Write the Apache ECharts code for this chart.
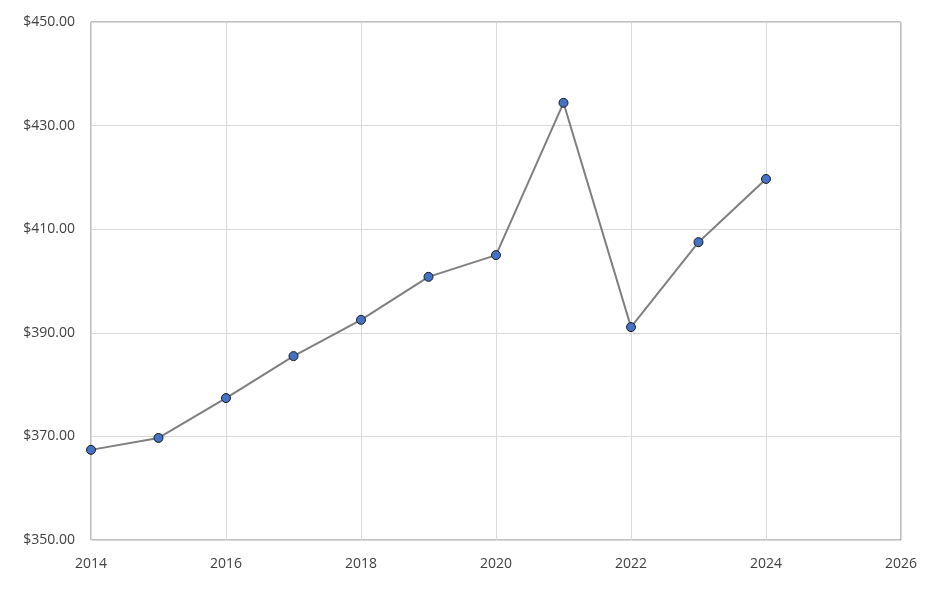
<!DOCTYPE html>
<html><head><meta charset="utf-8">
<script src="https://cdn.jsdelivr.net/npm/echarts@6/dist/echarts.min.js"></script>
<style>html,body{margin:0;padding:0;background:#fff}#c{width:945px;height:590px}</style>
</head><body><div id="c"></div>
<script>
const years = [2014,2015,2016,2017,2018,2019,2020,2021,2022,2023,2024];
const values = [367.4,369.7,377.4,385.5,392.5,400.8,405.0,434.4,391.1,407.5,419.7];
const chart = echarts.init(document.getElementById('c'));
chart.setOption({
  animation:false,
  grid:{left:91,right:44,top:22,bottom:50,show:true,borderColor:'#7f7f7f',borderWidth:1},
  xAxis:{type:'value',min:2014,max:2026,interval:2,
    axisLine:{show:false},axisTick:{show:false},
    splitLine:{lineStyle:{color:'#d9d9d9'}},
    axisLabel:{color:'#404040',fontFamily:'Open Sans',fontSize:14,margin:17,formatter:v=>String(v)}},
  yAxis:{type:'value',min:350,max:450,interval:20,
    axisLine:{show:false},axisTick:{show:false},
    splitLine:{lineStyle:{color:'#d9d9d9'}},
    axisLabel:{color:'#404040',fontFamily:'Open Sans',fontSize:14,margin:16,formatter:v=>'$'+v.toFixed(2)}},
  series:[{type:'line',data:years.map((y,i)=>[y,values[i]]),
    lineStyle:{color:'#7f7f7f',width:2},symbol:'circle',symbolSize:9,
    itemStyle:{color:'#4472c4',borderColor:'#1a1a1a',borderWidth:1}}]
});
</script></body></html>
